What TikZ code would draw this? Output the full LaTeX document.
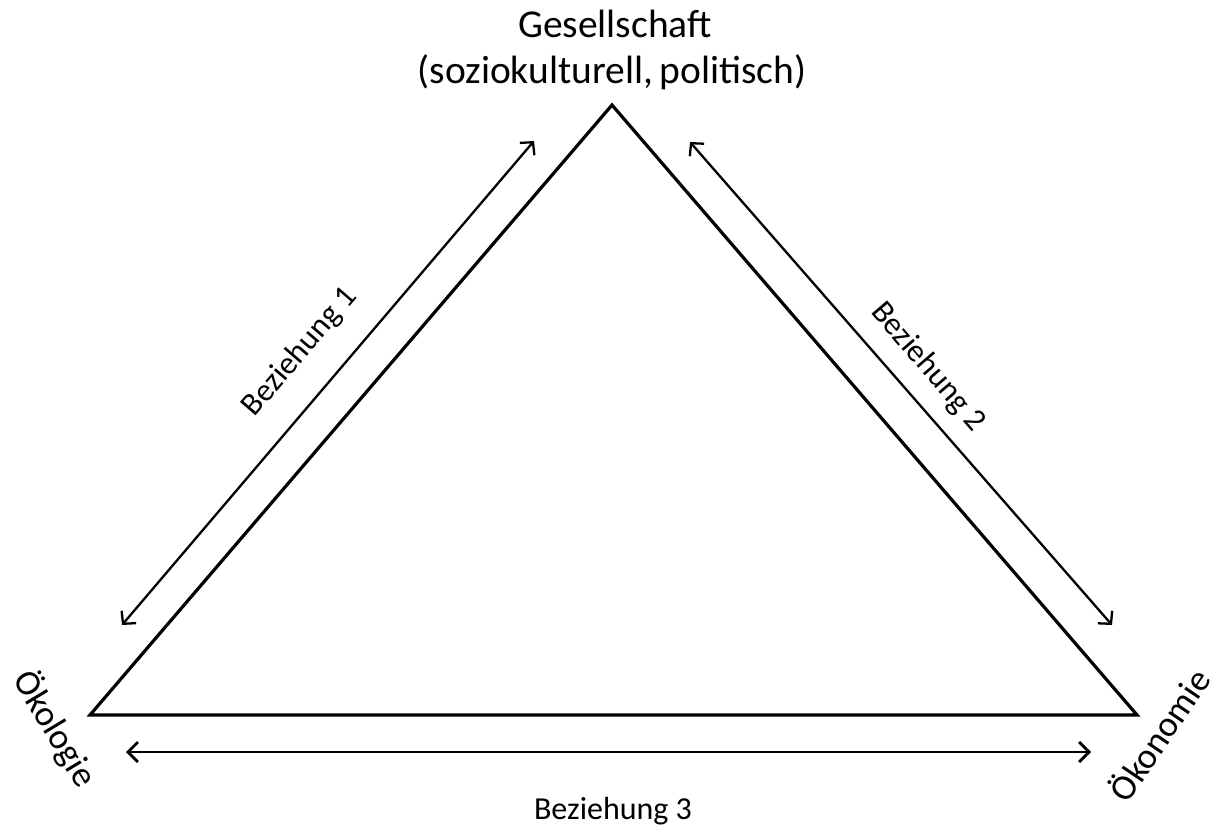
\documentclass[tikz,border=0pt]{standalone}
\usepackage{fontspec}
\setmainfont{Carlito}
\usetikzlibrary{arrows.meta}
\begin{document}
\begin{tikzpicture}[x=1pt,y=-1pt,
  tri/.style={line width=3.2pt,line join=miter},
  rel/.style={line width=2.3pt,{Straight Barb[length=9pt,width=19pt]}-{Straight Barb[length=9pt,width=19pt]}},
  relb/.style={line width=2.8pt,{Straight Barb[length=10pt,width=20pt]}-{Straight Barb[length=10pt,width=20pt]}},
  big/.style={font=\fontsize{39.5}{46}\selectfont,inner sep=0pt},
  corner/.style={font=\fontsize{36}{42}\selectfont,inner sep=0pt},
  lab/.style={font=\fontsize{32}{38}\selectfont,inner sep=0pt}]
\useasboundingbox (0,0) rectangle (1220,825);
\coordinate (T) at (612,105);
\coordinate (L) at (90,715);
\coordinate (R) at (1137,715);
\draw[tri] (T) -- (L) -- (R) -- cycle;
\coordinate (a1s) at (534,141); \coordinate (a1e) at (122,625);
\coordinate (a2s) at (690,142); \coordinate (a2e) at (1112,625);
\coordinate (a3s) at (126,752); \coordinate (a3e) at (1091,752);
\draw[rel] (a1s) -- (a1e);
\draw[rel] (a2s) -- (a2e);
\draw[relb] (a3s) -- (a3e);
\node[big,anchor=base] (g1) at (615,37) {Gesellschaft};
\node[big,anchor=base] (g2) at (612,83) {(soziokulturell,\,politisch)};
\node[corner,rotate=-59] (oek) at (55,729) {Ökologie};
\node[corner,rotate=56] (oko) at (1158,734) {Ökonomie};
\node[lab,rotate=49.4] (b1) at (300,352) {Beziehung 1};
\node[lab,rotate=-49.4] (b2) at (928,367) {Beziehung 2};
\node[lab,anchor=base] (b3) at (613,819) {Beziehung 3};
\end{tikzpicture}
\end{document}
